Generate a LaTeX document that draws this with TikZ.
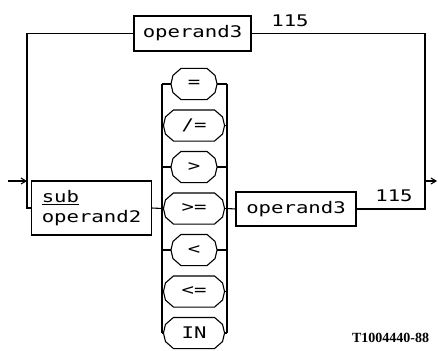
\documentclass[tikz,border=0pt]{standalone}
\usepackage{fontspec}
\usetikzlibrary{arrows.meta}
\newfontfamily\plotfont[FakeStretch=1.29]{DejaVu Sans Mono}
\newfontfamily\tagfont{Liberation Serif}
\begin{document}
\begin{tikzpicture}[x=1pt,y=-1pt, line width=1.1pt,
  txt/.style={font=\plotfont\fontsize{16}{20}\selectfont},
  box/.style={draw, rectangle, txt, inner sep=0pt},
  oval/.style={rectangle, minimum height=30pt, inner sep=0pt, txt},
  narrow/.style={oval, minimum width=45pt},
  wide/.style={oval, minimum width=60pt},
  tip/.style={-{Straight Barb[length=5pt,width=6pt]}}]
\useasboundingbox (0,0) rectangle (438,350);

% boxes
\node[box, minimum width=117pt, minimum height=35pt] (top) at (192.5,33.5) {operand3};
\node[box, minimum width=120pt, minimum height=34pt] (op3) at (296,209) {operand3};
\node[draw, rectangle, txt, align=left, inner xsep=10pt, minimum width=119pt,
  minimum height=54pt] (sub) at (91.5,208) {\underline{sub}\\operand2};

% ovals
\node[narrow] (o1) at (194,84) {=};
\node[wide]   (o2) at (194,125.5) {/=};
\node[narrow] (o3) at (194,167) {>};
\node[wide]   (o4) at (194,208.5) {>=};
\node[narrow] (o5) at (194,250) {<};
\node[wide]   (o6) at (194,291.5) {<=};
\node[wide]   (o7) at (194,333) {IN};

% octagon outlines and bracket coordinates
\foreach \i/\y in {1/84,2/125.5,3/167,4/208.5,5/250,6/291.5,7/333}{
  \draw ([xshift=10pt]o\i.north west) -- ([xshift=-10pt]o\i.north east)
     -- ([xshift=-2pt,yshift=-7pt]o\i.north east) -- (o\i.east)
     -- ([xshift=-2pt,yshift=7pt]o\i.south east) -- ([xshift=-10pt]o\i.south east)
     -- ([xshift=10pt]o\i.south west) -- ([xshift=2pt,yshift=7pt]o\i.south west)
     -- (o\i.west) -- ([xshift=2pt,yshift=-7pt]o\i.north west) -- cycle;
  \coordinate (bl\i) at (162,\y);
  \coordinate (br\i) at (227,\y);
  \draw (bl\i) -- (o\i.west);
  \draw (o\i.east) -- (br\i);
}
\draw (bl1) -- (bl7);
\draw (br1) -- (br7);

% main line
\coordinate (in) at (8,181);
\coordinate (j1) at (27,181);
\coordinate (lt) at (27,33.5);
\coordinate (lb) at (27,208);
\coordinate (rt) at (425,33.5);
\coordinate (rb) at (425,209);
\coordinate (ex) at (425,181);
\coordinate (out) at (437,181);

\draw[tip] (in) -- (j1);
\draw (top.west) -- (lt) -- (lb) -- (sub.west);
\draw (sub.east) -- (bl4);
\draw (br4) -- (op3.west);
\draw (op3.east) -- (rb) -- (rt) -- (top.east);
\draw[tip] (ex) -- (out);

% labels
\node[txt] (n115a) at (290,21) {115};
\node[txt] (n115b) at (394,196) {115};
\node[font=\tagfont\bfseries\fontsize{14}{16}\selectfont] (tag) at (390.5,338) {T1004440-88};
\end{tikzpicture}
\end{document}
